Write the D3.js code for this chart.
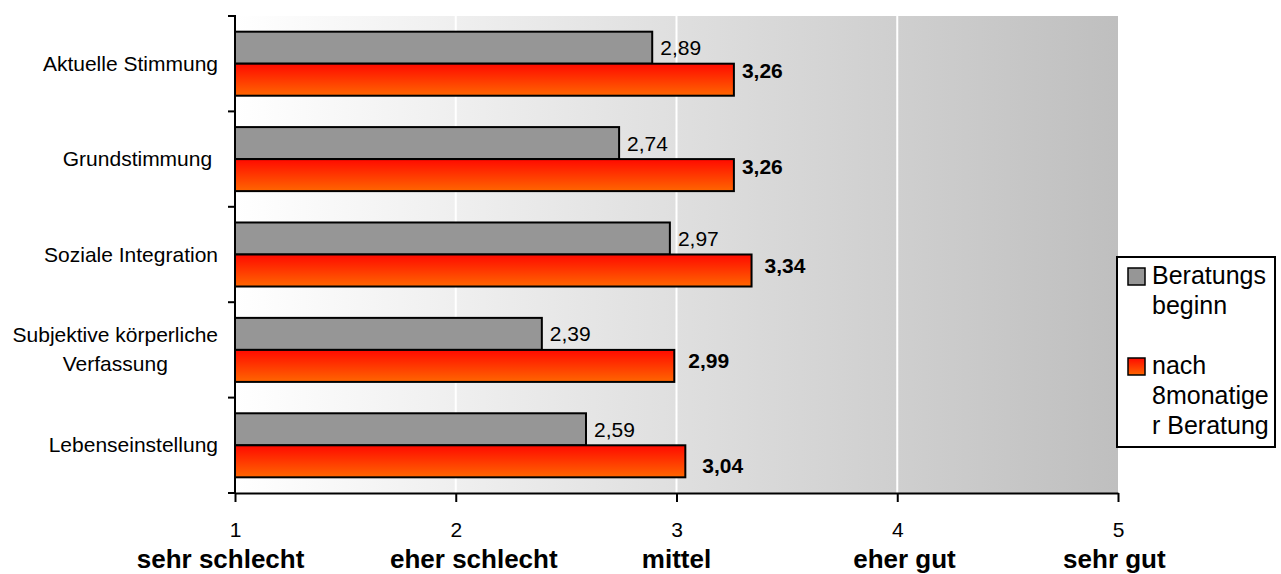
<!DOCTYPE html>
<html>
<head>
<meta charset="utf-8">
<script src="https://cdn.jsdelivr.net/npm/d3@7"></script>
<style>
  html, body { margin: 0; padding: 0; background: #fff; }
  svg { display: block; font-family: "Liberation Sans", Arial, sans-serif; }
  text { white-space: pre; }
</style>
</head>
<body>
<svg id="chart" width="1281" height="574"></svg>
<script>
// Categories (top to bottom); label lines for wrapped names
const categories = ["Aktuelle Stimmung", "Grundstimmung ", "Soziale Integration", "Subjektive körperliche Verfassung", "Lebenseinstellung"];
const categoryLines = [["Aktuelle Stimmung"], ["Grundstimmung "], ["Soziale Integration"], ["Subjektive körperliche", "Verfassung"], ["Lebenseinstellung"]];

const seriesNames = ["Beratungsbeginn", "nach 8monatiger Beratung"];
const legendLines = [["Beratungs", "beginn"], ["nach", "8monatige", "r Beratung"]];

const valuesStart = [2.89, 2.74, 2.97, 2.39, 2.59];
const valuesAfter = [3.26, 3.26, 3.34, 2.99, 3.04];

const tickValues = [1, 2, 3, 4, 5];
const tickNames = ["sehr schlecht    ", "     eher schlecht", "mittel", "  eher gut", "sehr gut "];

const fmt = v => v.toFixed(2).replace(".", ",");

// Hand-placed offsets [dx, dy] of the bold value labels, relative to the bar end / bar centre
const afterLabelNudge = [[8, -9.5], [8, -9], [13, -5.5], [14, -5.5], [17, 4]];

const svg = d3.select("#chart");
const defs = svg.append("defs");

// Plot background: white to grey from left to right
const bgGrad = defs.append("linearGradient").attr("id", "bgGrad")
  .attr("x1", "0").attr("y1", "0").attr("x2", "1").attr("y2", "0");
bgGrad.append("stop").attr("offset", "0").attr("stop-color", "#ffffff");
bgGrad.append("stop").attr("offset", "1").attr("stop-color", "#bfbfbf");

// Red bars: red at the top, orange at the bottom
const redGrad = defs.append("linearGradient").attr("id", "redGrad")
  .attr("x1", "0").attr("y1", "0").attr("x2", "0").attr("y2", "1");
redGrad.append("stop").attr("offset", "0").attr("stop-color", "#ff0a00");
redGrad.append("stop").attr("offset", "1").attr("stop-color", "#ff6600");

const fills = ["#969696", "url(#redGrad)"];

const x = d3.scaleLinear().domain([1, 5]).range([235, 1118]);
const y = d3.scaleBand().domain(categories).range([16, 493]).padding(0);
const ySub = d3.scaleBand().domain(seriesNames).range([0, y.bandwidth()])
  .paddingInner(0).paddingOuter(0.49);

const [plotTop, plotBottom] = y.range();

// Background
svg.append("rect")
  .attr("x", x(1)).attr("y", plotTop)
  .attr("width", x(5) - x(1)).attr("height", plotBottom - plotTop)
  .attr("fill", "url(#bgGrad)");

// White vertical gridlines
svg.append("g").selectAll("line")
  .data(tickValues.slice(1, -1))
  .join("line")
  .attr("x1", d => x(d)).attr("x2", d => x(d))
  .attr("y1", plotTop).attr("y2", plotBottom)
  .attr("stroke", "#ffffff").attr("stroke-width", 2);

// Bars
const rows = categories.map((c, i) => ({ cat: c, i, vals: [valuesStart[i], valuesAfter[i]] }));
const groups = svg.append("g").selectAll("g")
  .data(rows)
  .join("g")
  .attr("transform", d => `translate(0,${y(d.cat)})`);

groups.selectAll("rect")
  .data(d => d.vals.map((v, j) => ({ v, j, i: d.i, s: seriesNames[j] })))
  .join("rect")
  .attr("x", x(1))
  .attr("y", d => ySub(d.s))
  .attr("width", d => x(d.v) - x(1))
  .attr("height", ySub.bandwidth())
  .attr("fill", d => fills[d.j])
  .attr("stroke", "#000")
  .attr("stroke-width", 2);

// Value labels
groups.selectAll("text")
  .data(d => d.vals.map((v, j) => ({ v, j, i: d.i, s: seriesNames[j] })))
  .join("text")
  .attr("x", d => x(d.v) + (d.j === 1 ? afterLabelNudge[d.i][0] : 8))
  .attr("y", d => ySub(d.s) + ySub.bandwidth() / 2 + 7.5 + (d.j === 1 ? afterLabelNudge[d.i][1] : 0))
  .attr("font-size", 21)
  .attr("font-weight", d => d.j === 1 ? "bold" : "normal")
  .attr("fill", "#000")
  .text(d => fmt(d.v));

// Y axis line and ticks at band boundaries
const yAxis = svg.append("g").attr("stroke", "#000").attr("stroke-width", 2);
yAxis.append("line")
  .attr("x1", x(1)).attr("x2", x(1))
  .attr("y1", plotTop - 1).attr("y2", plotBottom);
yAxis.selectAll("line.tick")
  .data(categories.map(c => y(c)).concat([plotBottom]))
  .join("line").attr("class", "tick")
  .attr("x1", x(1) - 7).attr("x2", x(1))
  .attr("y1", d => d).attr("y2", d => d);

// Category labels (multi-line names centred on each other, block right-aligned)
const catLabels = svg.append("g").attr("font-size", 21).attr("fill", "#000");
categories.forEach((c, i) => {
  const lines = categoryLines[i];
  const cy = y(c) + y.bandwidth() / 2;
  const g = catLabels.append("g");
  const texts = lines.map((ln, k) => g.append("text")
    .attr("y", cy + 7 + (k - (lines.length - 1) / 2) * 29)
    .text(ln));
  const widths = texts.map(t => t.node().getComputedTextLength());
  const maxW = d3.max(widths);
  const rightEdge = x(1) - 17;
  texts.forEach(t => t.attr("x", rightEdge - maxW / 2).attr("text-anchor", "middle"));
});

// X axis
const xAxis = svg.append("g")
  .attr("transform", `translate(0,${plotBottom})`)
  .call(d3.axisBottom(x).tickValues(tickValues).tickSize(9).tickSizeOuter(0).tickPadding(20).tickFormat(d => d));
xAxis.select(".domain").attr("stroke", "#000").attr("stroke-width", 2);
xAxis.selectAll(".tick line").attr("stroke", "#000").attr("stroke-width", 2);
xAxis.selectAll(".tick text")
  .attr("font-family", "\"Liberation Sans\", Arial, sans-serif")
  .attr("font-size", 21).attr("fill", "#000");

// Verbal scale names under the numbers
svg.append("g").selectAll("text")
  .data(tickValues)
  .join("text")
  .attr("x", d => x(d))
  .attr("y", 568)
  .attr("text-anchor", "middle")
  .attr("font-size", 26)
  .attr("font-weight", "bold")
  .attr("fill", "#000")
  .text((d, i) => tickNames[i]);

// Legend
const legend = svg.append("g");
legend.append("rect")
  .attr("x", 1117).attr("y", 257).attr("width", 158).attr("height", 190)
  .attr("fill", "#fff").attr("stroke", "#000").attr("stroke-width", 2);
const legendTop = [284, 374];
seriesNames.forEach((s, j) => {
  legend.append("rect")
    .attr("x", 1128).attr("y", legendTop[j] - 16)
    .attr("width", 17).attr("height", 17)
    .attr("fill", fills[j]).attr("stroke", "#000").attr("stroke-width", 1.5);
  legendLines[j].forEach((ln, k) => {
    legend.append("text")
      .attr("x", 1152).attr("y", legendTop[j] + k * 30)
      .attr("font-size", 25).attr("fill", "#000")
      .text(ln);
  });
});
</script>
</body>
</html>
